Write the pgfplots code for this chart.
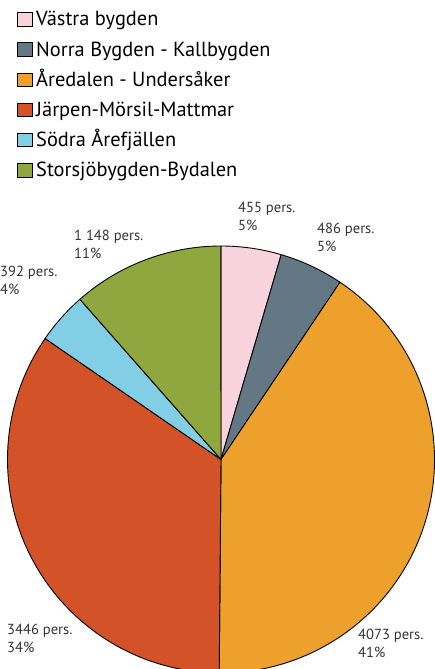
\documentclass[border=0pt]{standalone}
\usepackage{pgfplots}
\pgfplotsset{compat=1.18}
\usepackage{fontspec}
\setmainfont{PT Sans}
\definecolor{cpink}{HTML}{F8D2DC}
\definecolor{cslate}{HTML}{637884}
\definecolor{corange}{HTML}{EEA02C}
\definecolor{cred}{HTML}{D45228}
\definecolor{cblue}{HTML}{82CEE4}
\definecolor{cgreen}{HTML}{90A63E}
% slice: start (cumulative), value, colour
\newcommand\slice[3]{%
  \fill[#3, draw=black, line width=0.9pt, line join=round]
    (axis cs:221,209.5) -- ++({90-(#1)*0.036}:213.5pt)
    arc[start angle={90-(#1)*0.036}, end angle={90-(#1+#2)*0.036}, radius=213.5pt] -- cycle;}
\newcommand\legrow[3]{%
  \draw[fill=#2, draw=black, line width=0.6pt] (axis cs:17.5,{669-12.5-#1*30.2}) rectangle (axis cs:32,{669-26-#1*30.2});
  \node[anchor=base west, inner sep=0pt, font=\fontsize{20.4}{23}\selectfont] at (axis cs:36,{669-26-#1*30.2}) {#3};}
\newcommand\plabel[4]{%
  \node[anchor=base west, inner sep=0pt, font=\fontsize{14.6}{17}\selectfont, text=black!80] at (axis cs:#1,{669-#2}) {#3};
  \node[anchor=base west, inner sep=0pt, font=\fontsize{14.6}{17}\selectfont, text=black!80] at (axis cs:#1,{669-#2-18}) {#4};}
\begin{document}
\begin{tikzpicture}
\useasboundingbox (0,0) rectangle (435pt,669pt);
\begin{axis}[at={(0pt,0pt)}, anchor=origin, x=1pt, y=1pt,
  xmin=0, xmax=435, ymin=0, ymax=669, hide axis, clip=false]
% values (pers.): 455, 486, 4073, 3446, 392, 1148
\slice{0}{455}{cpink}
\slice{455}{486}{cslate}
\slice{941}{4073}{corange}
\slice{5014}{3446}{cred}
\slice{8460}{392}{cblue}
\slice{8852}{1148}{cgreen}
\legrow{0}{cpink}{Västra bygden}
\legrow{1}{cslate}{Norra Bygden - Kallbygden}
\legrow{2}{corange}{Åredalen - Undersåker}
\legrow{3}{cred}{Järpen-Mörsil-Mattmar}
\legrow{4}{cblue}{Södra Årefjällen}
\legrow{5}{cgreen}{Storsjöbygden-Bydalen}
\plabel{238}{213}{455 pers.}{5\%}
\plabel{317}{234}{486 pers.}{5\%}
\plabel{358}{640}{4073 pers.}{41\%}
\plabel{7}{635}{3446 pers.}{34\%}
\plabel{0}{277}{392 pers.}{4\%}
\plabel{74}{241}{1 148 pers.}{11\%}
\end{axis}
\end{tikzpicture}
\end{document}
